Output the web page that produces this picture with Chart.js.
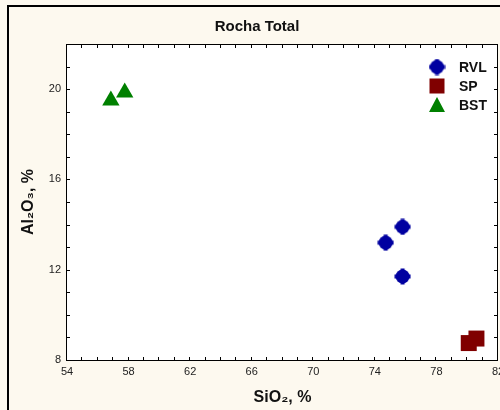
<!DOCTYPE html>
<html>
<head>
<meta charset="utf-8">
<script src="https://cdn.jsdelivr.net/npm/chart.js@4/dist/chart.umd.min.js"></script>
<style>
  html, body { margin: 0; padding: 0; background: #fdf9ef; }
  canvas { display: block; }
</style>
</head>
<body>
<canvas id="grafico" width="500" height="410"></canvas>
<script>
// dados (SiO2 x Al2O3)
var seriesNames = ['RVL', 'SP', 'BST'];
var rvlSiO2 = [75.8, 74.7, 75.8];
var rvlAl2O3 = [13.9, 13.2, 11.7];
var spSiO2 = [80.1, 80.6];
var spAl2O3 = [8.75, 8.95];
var bstSiO2 = [56.85, 57.75];
var bstAl2O3 = [19.5, 19.85];
var xTicks = [54, 58, 62, 66, 70, 74, 78, 82];
var yTicks = [8, 12, 16, 20];

var cores = { RVL: '#0000a0', SP: '#800000', BST: '#008000' };

// simbolo do RVL (circulo com "pontas")
function makeCross(cor) {
    var c = document.createElement('canvas');
    c.width = 17; c.height = 17;
    var g = c.getContext('2d');
    g.fillStyle = cor;
    g.beginPath();
    g.arc(8.5, 8.5, 7, 0, Math.PI * 2);
    g.fill();
    g.fillRect(6.5, 0.5, 4, 16);
    g.fillRect(0.5, 6.5, 16, 4);
    return c;
}
var crossImg = makeCross(cores.RVL);

function toPoints(xs, ys) {
    return xs.map(function (x, i) { return { x: x, y: ys[i] }; });
}

var fundo = {
    id: 'fundo',
    beforeDraw: function (chart) {
        var ctx = chart.ctx, a = chart.chartArea;
        ctx.save();
        ctx.fillStyle = '#fdf9ef';
        ctx.fillRect(0, 0, chart.width, chart.height);
        ctx.fillStyle = '#000';
        ctx.fillRect(7, 5, 2, chart.height);
        ctx.fillRect(7, 5, chart.width, 2);
        ctx.fillStyle = '#fff';
        ctx.fillRect(a.left, a.top, a.right - a.left, a.bottom - a.top);
        ctx.restore();
    },
    beforeDatasetsDraw: function (chart) {
        var ctx = chart.ctx, a = chart.chartArea;
        var xs = chart.scales.x, ys = chart.scales.y;
        ctx.save();
        ctx.strokeStyle = '#000';
        ctx.lineWidth = 1;
        ctx.strokeRect(a.left - 0.5, a.top + 0.5, a.right - a.left, a.bottom - a.top);
        ctx.beginPath();
        for (var v = xs.min; v <= xs.max; v++) {
            var px = Math.round(xs.getPixelForValue(v)) - 0.5;
            ctx.moveTo(px, a.bottom); ctx.lineTo(px, a.bottom - 3);
            ctx.moveTo(px, a.top); ctx.lineTo(px, a.top + 4);
        }
        for (var w = ys.min; w <= ys.max; w++) {
            var py = Math.round(ys.getPixelForValue(w)) + 0.5;
            ctx.moveTo(a.left, py); ctx.lineTo(a.left + 3, py);
            ctx.moveTo(a.right, py); ctx.lineTo(a.right - 4, py);
        }
        ctx.stroke();
        ctx.restore();
    },
    afterDatasetsDraw: function (chart) {
        // legenda dentro da area do grafico
        var ctx = chart.ctx;
        var x0 = 437, y0 = 67, passo = 19;
        ctx.save();
        seriesNames.forEach(function (nome, i) {
            var y = y0 + i * passo;
            ctx.fillStyle = cores[nome];
            if (nome == 'RVL') {
                ctx.drawImage(crossImg, x0 - 8.5, y - 8.5);
            } else if (nome == 'SP') {
                ctx.fillRect(x0 - 7.5, y - 7.5, 15, 15);
            } else {
                ctx.beginPath();
                ctx.moveTo(x0, y - 8);
                ctx.lineTo(x0 + 8, y + 7);
                ctx.lineTo(x0 - 8, y + 7);
                ctx.closePath();
                ctx.fill();
            }
            ctx.fillStyle = '#111';
            ctx.font = 'bold 14px Arial, "Liberation Sans", sans-serif';
            ctx.textBaseline = 'middle';
            ctx.textAlign = 'left';
            ctx.fillText(nome, 459, y + 1);
        });
        ctx.restore();
    }
};

var chart = new Chart(document.getElementById('grafico'), {
    type: 'scatter',
    data: {
        datasets: [
            {
                label: 'RVL',
                data: toPoints(rvlSiO2, rvlAl2O3),
                pointStyle: crossImg,
                backgroundColor: cores.RVL
            },
            {
                label: 'SP',
                data: toPoints(spSiO2, spAl2O3),
                pointStyle: 'rect',
                pointRadius: 11.3,
                pointBorderWidth: 0,
                backgroundColor: cores.SP
            },
            {
                label: 'BST',
                data: toPoints(bstSiO2, bstAl2O3),
                pointStyle: 'triangle',
                pointRadius: 10,
                pointBorderWidth: 0,
                backgroundColor: cores.BST
            }
        ]
    },
    options: {
        responsive: false,
        animation: false,
        layout: { autoPadding: false, padding: { left: 16, right: 2, top: 0, bottom: 0 } },
        plugins: {
            legend: { display: false },
            tooltip: { enabled: false },
            title: {
                display: true,
                text: 'Rocha Total',
                color: '#111',
                font: { family: 'Arial, "Liberation Sans", sans-serif', size: 15, weight: 'bold' },
                padding: { top: 18, bottom: 8 }
            }
        },
        scales: {
            x: {
                type: 'linear',
                min: 54, max: 82,
                grid: { display: false, drawTicks: false },
                border: { display: false },
                ticks: {
                    color: '#222', padding: 5, autoSkip: false, maxRotation: 0,
                    font: { family: 'Arial, "Liberation Sans", sans-serif', size: 11 }
                },
                afterBuildTicks: function (s) { s.ticks = xTicks.map(function (v) { return { value: v }; }); },
                afterFit: function (s) { s.height = 50; s.paddingLeft = 0; s.paddingRight = 0; },
                title: {
                    display: true, text: 'SiO₂, %', color: '#111',
                    font: { family: 'Arial, "Liberation Sans", sans-serif', size: 16, weight: 'bold' },
                    padding: { top: 0, bottom: 3 }
                }
            },
            y: {
                type: 'linear',
                min: 8, max: 22,
                grid: { display: false, drawTicks: false },
                border: { display: false },
                ticks: {
                    color: '#222', padding: 6,
                    font: { family: 'Arial, "Liberation Sans", sans-serif', size: 11 }
                },
                afterBuildTicks: function (s) { s.ticks = yTicks.map(function (v) { return { value: v }; }); },
                afterFit: function (s) { s.width = 51; s.paddingTop = 0; s.paddingBottom = 0; },
                title: {
                    display: true, text: 'Al₂O₃, %', color: '#111',
                    font: { family: 'Arial, "Liberation Sans", sans-serif', size: 16, weight: 'bold' },
                    padding: { top: 3, bottom: 0 }
                }
            }
        }
    },
    plugins: [fundo]
});
</script>
</body>
</html>
